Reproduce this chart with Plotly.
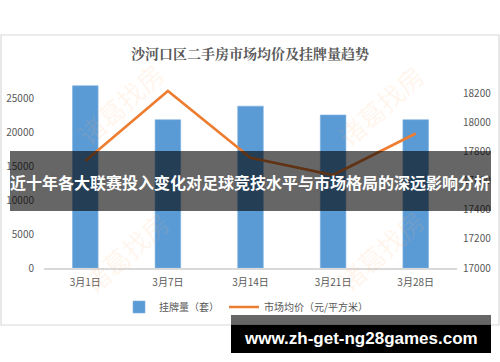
import plotly.graph_objects as go

# ---- data ----
dates = ["3月1日", "3月7日", "3月14日", "3月21日", "3月28日"]
listings = [26800, 21800, 23800, 22500, 21800]          # 挂牌量（套）
avg_price = [17735, 18215, 17757, 17638, 17923]          # 市场均价（元/平方米）
left_ticks = [0, 5000, 10000, 15000, 20000, 25000]
right_ticks = [17000, 17200, 17400, 17600, 17800, 18000, 18200]

W, H = 500, 362
L, R, T, B = 44, 43, 64, 94
PW, PH = W - L - R, H - T - B

def px(x):  # pixel x -> paper x
    return (x - L) / PW

def py(y):  # pixel y -> paper y
    return (H - B - y) / PH

GRAY = "#595959"
FONT = "Noto Sans CJK SC"

fig = go.Figure()
fig.add_trace(go.Bar(
    x=dates, y=listings, name="挂牌量（套）",
    marker=dict(color="#5B9BD5", line=dict(color="#7FB2E0", width=0.6)),
    width=0.31, yaxis="y",
))
fig.add_trace(go.Scatter(
    x=dates, y=avg_price, name="市场均价（元/平方米）",
    mode="lines", line=dict(color="#ED7D31", width=2.6), yaxis="y2",
))

fig.update_layout(
    width=W, height=H,
    margin=dict(l=L, r=R, t=T, b=B, autoexpand=False),
    paper_bgcolor="white", plot_bgcolor="white",
    font=dict(family=FONT, size=10, color=GRAY),
    xaxis=dict(showgrid=False, showline=True, linecolor="#d9d9d9", linewidth=1.5,
               ticks="", tickfont=dict(size=10, color=GRAY), ticklabelstandoff=4,
               zeroline=False, automargin=False),
    yaxis=dict(range=[0, 30000], tickvals=left_ticks, tickformat="d", showgrid=False,
               zeroline=False, showline=False, tickfont=dict(size=10, color=GRAY),
               ticklabelstandoff=9, automargin=False),
    yaxis2=dict(range=[17000, 18400], tickvals=right_ticks, tickformat="d", overlaying="y",
                side="right", showgrid=False, zeroline=False, showline=False,
                tickfont=dict(size=10, color=GRAY), ticklabelstandoff=5, automargin=False),
    legend=dict(orientation="h", x=px(246), xanchor="center", y=py(307), yanchor="middle",
                font=dict(size=10, color=GRAY), itemwidth=30, bgcolor="rgba(0,0,0,0)"),
    showlegend=True,
)

shapes = []
# chart frame
shapes.append(dict(type="rect", xref="paper", yref="paper",
                   x0=px(1), x1=px(499), y0=py(325), y1=py(35),
                   line=dict(color="#d9d9d9", width=1.2), fillcolor="rgba(0,0,0,0)", layer="below"))
# dark title band
shapes.append(dict(type="rect", xref="paper", yref="paper",
                   x0=px(10), x1=px(491), y0=py(211), y1=py(151),
                   line=dict(width=0), fillcolor="rgba(0,0,0,0.6)", layer="above"))
# bottom url band
shapes.append(dict(type="rect", xref="paper", yref="paper",
                   x0=px(231), x1=px(491), y0=py(325), y1=py(315),
                   line=dict(width=0), fillcolor="rgba(0,0,0,0.6)", layer="above"))
shapes.append(dict(type="rect", xref="paper", yref="paper",
                   x0=px(231), x1=px(491), y0=py(353), y1=py(325),
                   line=dict(width=0), fillcolor="black", layer="above"))
fig.update_layout(shapes=shapes)

ann = []
# watermarks
for cx, cy in [(120, 103), (380, 105), (125, 252), (380, 250)]:
    ann.append(dict(text="诸葛找房", xref="paper", yref="paper", x=px(cx), y=py(cy),
                    xanchor="center", yanchor="middle", showarrow=False, textangle=-42,
                    font=dict(family=FONT, size=26, color="rgba(255,175,110,0.13)")))
# chart title
ann.append(dict(text="<b>沙河口区二手房市场均价及挂牌量趋势</b>", xref="paper", yref="paper",
                x=px(250), y=py(53), xanchor="center", yanchor="middle", showarrow=False,
                font=dict(family="Noto Serif CJK SC, Noto Sans CJK SC", size=14, color=GRAY)))
# overlay headline
ann.append(dict(text="<b>近十年各大联赛投入变化对足球竞技水平与市场格局的深远影响分析</b>",
                xref="paper", yref="paper", x=px(250), xanchor="center", y=py(182),
                yanchor="middle", showarrow=False,
                font=dict(family=FONT, size=16, color="white")))
# url
ann.append(dict(text="<b>www.zh-get-ng28games.com</b>", xref="paper", yref="paper",
                x=px(361), y=py(338), xanchor="center", yanchor="middle", showarrow=False,
                font=dict(family="Liberation Sans, Arial", size=17, color="white")))
fig.update_layout(annotations=ann)

fig.write_html("out.html")
